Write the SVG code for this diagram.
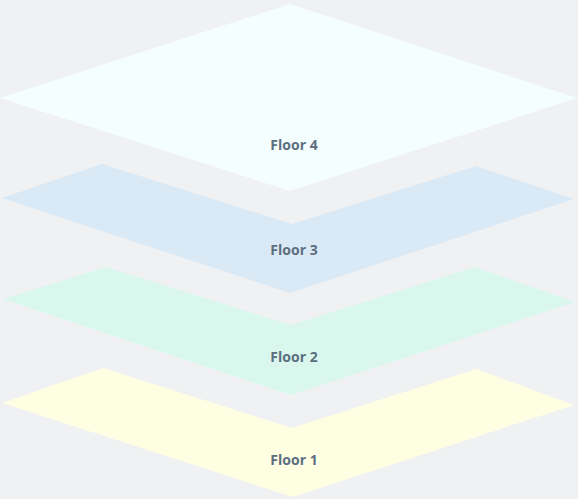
<svg xmlns="http://www.w3.org/2000/svg" width="578" height="499" viewBox="0 0 578 499">
<style>
.lbl{font-family:"Open Sans","Liberation Sans",sans-serif;font-weight:bold;font-size:14px;fill:#5c6f7f;text-anchor:middle}
</style>
<rect width="578" height="499" fill="#f0f1f3"/>
<g id="floor1">
<polygon points="2,403 103,368 292,428 476,369 574,405 293,497" fill="#fefee3"/>
<text class="lbl" x="294" y="465">Floor 1</text>
</g>
<g id="floor2">
<polygon points="3,299 106,267 291,325 475,267 575,302 291,395" fill="#daf7ee"/>
<text class="lbl" x="294" y="362">Floor 2</text>
</g>
<g id="floor3">
<polygon points="2,198 102,164 292,224 476,166 574,199 290,293" fill="#d9e9f5"/>
<text class="lbl" x="294" y="255">Floor 3</text>
</g>
<g id="floor4">
<polygon points="290,4 577,98 290,191 0,98" fill="#f5feff"/>
<text class="lbl" x="294" y="150">Floor 4</text>
</g>
<g id="connectors"/>
</svg>
